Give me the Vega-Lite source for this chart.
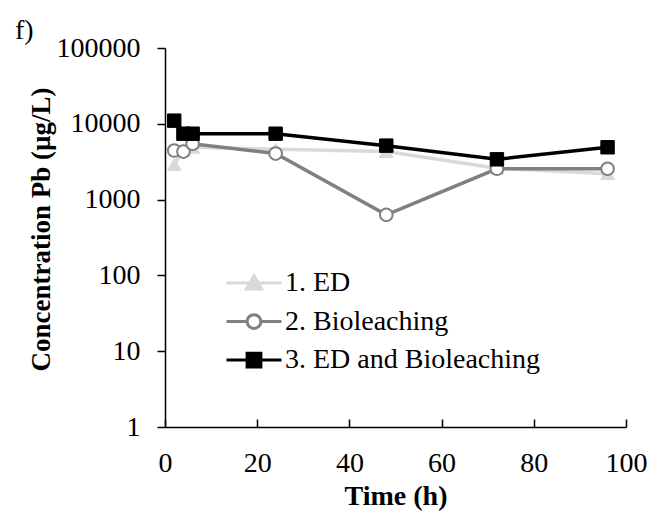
{
  "$schema": "https://vega.github.io/schema/vega-lite/v6.json",
  "width": 461,
  "height": 379,
  "autosize": {"type": "none"},
  "padding": {"left": 165, "top": 48, "right": 40, "bottom": 90},
  "background": "white",
  "title": {"text": "f)", "anchor": "start", "frame": "group", "dx": -150, "dy": 15, "fontSize": 28, "fontWeight": "normal", "font": "Liberation Serif", "color": "black", "offset": 4},
  "config": {
    "view": {"stroke": null},
    "font": "Liberation Serif",
    "axis": {"grid": false, "domainColor": "black", "domainWidth": 1.5, "tickColor": "black", "tickWidth": 1.5, "labelFont": "Liberation Serif", "labelFontSize": 28, "labelColor": "black", "titleFont": "Liberation Serif", "titleFontSize": 28, "titleFontWeight": "bold", "titleColor": "black"}
  },
  "data": {"values": [
    {"Time": 2, "Conc": 2900, "Series": "1. ED"},
    {"Time": 4, "Conc": 4500, "Series": "1. ED"},
    {"Time": 6, "Conc": 4900, "Series": "1. ED"},
    {"Time": 24, "Conc": 4600, "Series": "1. ED"},
    {"Time": 48, "Conc": 4300, "Series": "1. ED"},
    {"Time": 72, "Conc": 2600, "Series": "1. ED"},
    {"Time": 96, "Conc": 2200, "Series": "1. ED"},
    {"Time": 2, "Conc": 4450, "Series": "2. Bioleaching"},
    {"Time": 4, "Conc": 4300, "Series": "2. Bioleaching"},
    {"Time": 6, "Conc": 5450, "Series": "2. Bioleaching"},
    {"Time": 24, "Conc": 4050, "Series": "2. Bioleaching"},
    {"Time": 48, "Conc": 630, "Series": "2. Bioleaching"},
    {"Time": 72, "Conc": 2550, "Series": "2. Bioleaching"},
    {"Time": 96, "Conc": 2550, "Series": "2. Bioleaching"},
    {"Time": 2, "Conc": 11000, "Series": "3. ED and Bioleaching"},
    {"Time": 4, "Conc": 7400, "Series": "3. ED and Bioleaching"},
    {"Time": 6, "Conc": 7400, "Series": "3. ED and Bioleaching"},
    {"Time": 24, "Conc": 7400, "Series": "3. ED and Bioleaching"},
    {"Time": 48, "Conc": 5150, "Series": "3. ED and Bioleaching"},
    {"Time": 72, "Conc": 3400, "Series": "3. ED and Bioleaching"},
    {"Time": 96, "Conc": 4900, "Series": "3. ED and Bioleaching"}
  ]},
  "encoding": {
    "x": {"field": "Time", "type": "quantitative", "scale": {"domain": [0, 100], "nice": false},
      "axis": {"title": "Time (h)", "values": [0, 20, 40, 60, 80, 100], "tickSize": -8, "labelPadding": 30, "titlePadding": 5, "labelFlush": false}},
    "y": {"field": "Conc", "type": "quantitative", "scale": {"type": "log", "domain": [1, 100000], "nice": false},
      "axis": {"title": "Concentration Pb (µg/L)", "values": [1, 10, 100, 1000, 10000, 100000], "format": "d", "tickSize": 8, "labelPadding": 17, "titlePadding": 1, "titleFontSize": 27, "titleY": 181}}
  },
  "layer": [
    {
      "mark": {"type": "line", "strokeWidth": 3.5},
      "encoding": {
        "color": {"field": "Series", "type": "nominal",
          "scale": {"domain": ["1. ED", "2. Bioleaching", "3. ED and Bioleaching"], "range": ["#d9d9d9", "#808080", "#000000"]},
          "legend": {
            "title": null, "orient": "none", "legendX": 60, "legendY": 220, "padding": 0,
            "clipHeight": 30, "rowPadding": 8.5, "symbolSize": 3025, "labelOffset": 2, "labelLimit": 400,
            "labelFont": "Liberation Serif", "labelFontSize": 28, "labelColor": "black",
            "encode": {"symbols": {"update": {
              "shape": {"signal": "datum.value === '1. ED' ? 'M-1,0H1M0,-0.26L0.28,0.22L-0.28,0.22Z' : datum.value === '2. Bioleaching' ? 'M-1,0H-0.25M0.25,0H1M-0.25,0A0.25,0.25,0,1,0,0.25,0A0.25,0.25,0,1,0,-0.25,0Z' : 'M-1,0H1M-0.25,-0.25H0.25V0.25H-0.25Z'"},
              "fill": {"signal": "datum.value === '1. ED' ? '#d9d9d9' : datum.value === '2. Bioleaching' ? '#ffffff' : '#000000'"},
              "stroke": {"signal": "datum.value === '1. ED' ? '#d9d9d9' : datum.value === '2. Bioleaching' ? '#808080' : '#000000'"},
              "strokeWidth": {"value": 3},
              "opacity": {"value": 1}
            }}}
          }
        }
      }
    },
    {
      "transform": [{"filter": "datum.Series === '1. ED'"}],
      "mark": {"type": "point", "shape": "triangle-up", "filled": true, "fill": "#d9d9d9", "stroke": "#d9d9d9", "strokeWidth": 1, "opacity": 1, "size": 190}
    },
    {
      "transform": [{"filter": "datum.Series === '2. Bioleaching'"}],
      "mark": {"type": "point", "shape": "circle", "filled": true, "fill": "#ffffff", "stroke": "#808080", "strokeWidth": 2, "opacity": 1, "size": 160}
    },
    {
      "transform": [{"filter": "datum.Series === '3. ED and Bioleaching'"}],
      "mark": {"type": "point", "shape": "square", "filled": true, "fill": "#000000", "stroke": "#000000", "strokeWidth": 1, "opacity": 1, "size": 180}
    }
  ]
}
